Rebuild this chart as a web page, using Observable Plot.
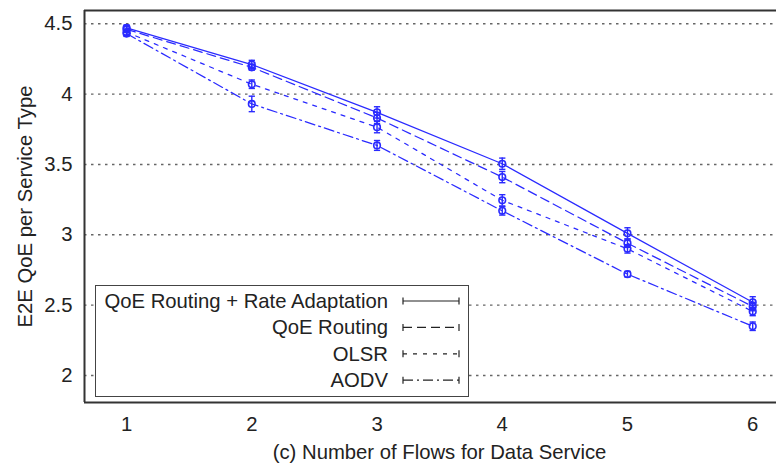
<!DOCTYPE html>
<html>
<head>
<meta charset="utf-8">
<script src="https://cdn.jsdelivr.net/npm/d3@7"></script>
<script src="https://cdn.jsdelivr.net/npm/@observablehq/plot@0.6"></script>
<style>
  html, body { margin: 0; padding: 0; background: #fff; }
  #wrap { position: relative; width: 776px; height: 466px; overflow: hidden; }
  #legend { position: absolute; left: 95px; top: 285px; width: 372px; height: 110px;
            border: 1.5px solid #444; background: #fff; box-sizing: content-box; }
</style>
</head>
<body>
<div id="wrap"></div>
<script>
// ---- data ----
const flows = [1, 2, 3, 4, 5, 6];
const seriesNames = ["QoE Routing + Rate Adaptation", "QoE Routing", "OLSR", "AODV"];
const qoeRateAdapt = [4.47, 4.21, 3.87, 3.505, 3.01, 2.52];
const qoeRouting   = [4.46, 4.19, 3.83, 3.41, 2.94, 2.49];
const olsr         = [4.44, 4.07, 3.765, 3.245, 2.90, 2.455];
const aodv         = [4.43, 3.93, 3.635, 3.17, 2.72, 2.35];
const errRateAdapt = [0.02, 0.03, 0.04, 0.04, 0.04, 0.04];
const errRouting   = [0.02, 0.02, 0.04, 0.04, 0.03, 0.03];
const errOlsr      = [0.02, 0.03, 0.04, 0.04, 0.03, 0.03];
const errAodv      = [0.02, 0.055, 0.035, 0.03, 0.02, 0.03];
const yTicks = [2, 2.5, 3, 3.5, 4, 4.5];
const yTickLabels = ["2", "2.5", "3", "3.5", "4", "4.5"];
const xTicks = [1, 2, 3, 4, 5, 6];
const xTitle = "(c) Number of Flows for Data Service";
const yTitle = "E2E QoE per Service Type";

const dashes = ["none", "9,5", "4,6", "10,4,2,4"];
const valuesBySeries = [qoeRateAdapt, qoeRouting, olsr, aodv];
const errsBySeries = [errRateAdapt, errRouting, errOlsr, errAodv];

const rows = [];
seriesNames.forEach((s, i) => flows.forEach((f, j) => rows.push({
  series: s, idx: i, x: f, y: valuesBySeries[i][j], e: errsBySeries[i][j]
})));

const blue = "#2a2aff";
const capHalf = 0.025;
const xDom = [0.664, 6.19];
const yDom = [1.808, 4.594];
const FS = 20.3;

const marks = [
  Plot.ruleY(yTicks, {stroke: "#666", strokeWidth: 1.4, strokeDasharray: "2.5,4.5"}),
];
seriesNames.forEach((s, i) => {
  const d = rows.filter(r => r.idx === i);
  marks.push(Plot.line(d, {x: "x", y: "y", stroke: blue, strokeWidth: 1.25,
    strokeDasharray: dashes[i] === "none" ? null : dashes[i]}));
});
marks.push(
  Plot.ruleX(rows, {x: "x", y1: d => d.y - d.e, y2: d => d.y + d.e, stroke: blue, strokeWidth: 1.4}),
  Plot.link(rows, {x1: d => d.x - capHalf, x2: d => d.x + capHalf, y1: d => d.y - d.e, y2: d => d.y - d.e, stroke: blue, strokeWidth: 1.4}),
  Plot.link(rows, {x1: d => d.x - capHalf, x2: d => d.x + capHalf, y1: d => d.y + d.e, y2: d => d.y + d.e, stroke: blue, strokeWidth: 1.4}),
  Plot.dot(rows, {x: "x", y: "y", r: 3.3, stroke: blue, strokeWidth: 1.6, fill: "none"}),
  // frame: left, top, bottom
  Plot.ruleX([xDom[0]], {stroke: "#333", strokeWidth: 2}),
  Plot.ruleY([yDom[1]], {stroke: "#333", strokeWidth: 2}),
  Plot.ruleY([yDom[0]], {stroke: "#333", strokeWidth: 2}),
  Plot.text([yTitle], {frameAnchor: "left", dx: -59, rotate: -90, textAnchor: "middle", lineAnchor: "middle", fontSize: FS, fill: "#222"}),
  Plot.text([xTitle], {frameAnchor: "bottom", dx: 9, dy: 50, textAnchor: "middle", lineAnchor: "middle", fontSize: FS, fill: "#222"})
);

const chart = Plot.plot({
  width: 776,
  height: 466,
  marginLeft: 84,
  marginRight: 0,
  marginTop: 10,
  marginBottom: 64,
  style: {fontFamily: "'Liberation Sans', Arial, sans-serif", fontSize: FS + "px", color: "#222", background: "#fff"},
  x: {domain: xDom, ticks: xTicks, tickFormat: d => String(d), tickSize: 0, tickPadding: 14, label: null},
  y: {domain: yDom, ticks: yTicks, tickFormat: d => yTickLabels[yTicks.indexOf(d)], tickSize: 0, tickPadding: 12, label: null},
  marks
});
document.getElementById("wrap").appendChild(chart);

// ---- legend ----
const legend = document.createElement("div");
legend.id = "legend";
const ns = "http://www.w3.org/2000/svg";
const lsvg = document.createElementNS(ns, "svg");
lsvg.setAttribute("width", 372);
lsvg.setAttribute("height", 110);
lsvg.style.fontFamily = "'Liberation Sans', Arial, sans-serif";
seriesNames.forEach((s, i) => {
  const cy = 15 + i * 26.4;
  const t = document.createElementNS(ns, "text");
  t.setAttribute("x", 292);
  t.setAttribute("y", cy);
  t.setAttribute("text-anchor", "end");
  t.setAttribute("dominant-baseline", "central");
  t.setAttribute("font-size", FS);
  t.setAttribute("fill", "#222");
  t.textContent = s;
  lsvg.appendChild(t);
  const ln = document.createElementNS(ns, "line");
  ln.setAttribute("x1", 307); ln.setAttribute("x2", 363);
  ln.setAttribute("y1", cy); ln.setAttribute("y2", cy);
  ln.setAttribute("stroke", "#222"); ln.setAttribute("stroke-width", 1.2);
  if (dashes[i] !== "none") ln.setAttribute("stroke-dasharray", dashes[i]);
  lsvg.appendChild(ln);
  [307, 363].forEach(cx => {
    const c = document.createElementNS(ns, "line");
    c.setAttribute("x1", cx); c.setAttribute("x2", cx);
    c.setAttribute("y1", cy - 3.5); c.setAttribute("y2", cy + 3.5);
    c.setAttribute("stroke", "#222"); c.setAttribute("stroke-width", 1.2);
    lsvg.appendChild(c);
  });
});
legend.appendChild(lsvg);
document.getElementById("wrap").appendChild(legend);
</script>
</body>
</html>
